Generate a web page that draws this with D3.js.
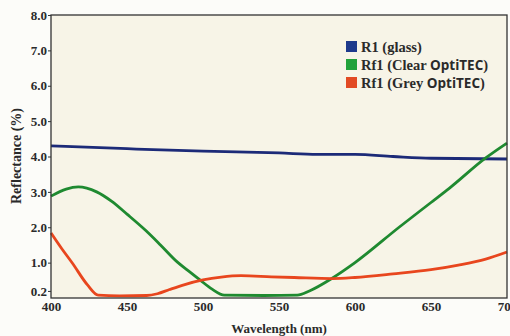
<!DOCTYPE html>
<html lang="en">
<head>
  <meta charset="UTF-8">
  <title>Reflectance</title>
  <script src="https://d3js.org/d3.v7.min.js"></script>
  <style>
    body { margin: 0; background: #fcfcf9; }
    text { font-family: "Liberation Serif", "DejaVu Serif", serif; font-weight: bold; fill: #2a2a2a; }
  </style>
</head>
<body>
  <div id="chart"></div>
  <script>
    // wavelengths (nm) and reflectance (%)
    const glassWl   = [400, 450, 500, 550, 575, 600, 625, 650, 700];
    const glassVals = [4.30, 4.22, 4.15, 4.10, 4.06, 4.06, 4.00, 3.95, 3.93];

    const clearWl   = [400, 410, 418, 430, 440, 450, 462, 472, 483, 490, 498, 506, 514, 540, 562, 570, 585, 600, 629, 650, 662, 686, 700];
    const clearVals = [2.88, 3.08, 3.14, 3.00, 2.73, 2.37, 1.92, 1.50, 1.02, 0.78, 0.51, 0.25, 0.08, 0.07, 0.08, 0.20, 0.56, 1.00, 2.00, 2.70, 3.10, 3.96, 4.38];

    const greyWl    = [400, 407, 414, 424, 431, 445, 463, 470, 478, 488, 500, 512, 525, 545, 560, 585, 600, 625, 650, 668, 686, 700];
    const greyVals  = [1.84, 1.40, 0.99, 0.37, 0.08, 0.06, 0.07, 0.12, 0.24, 0.38, 0.51, 0.59, 0.63, 0.60, 0.58, 0.55, 0.58, 0.68, 0.80, 0.93, 1.10, 1.30];

    const xTicks = [400, 450, 500, 550, 600, 650, 700];
    const yTicks = [0.2, 1, 2, 3, 4, 5, 6, 7, 8];

    const seriesNames = ["R1 (glass)", "Rf1 (Clear OptiTEC)", "Rf1 (Grey OptiTEC)"];
    const lineColors = ["#1c2a78", "#1f8a30", "#e8461e"];
    const swatchColors = ["#1e3a8c", "#22a23a", "#e24a24"];

    const W = 510, H = 336;
    const margin = { top: 15, right: 3, bottom: 38, left: 51 };
    const width = W - margin.left - margin.right,
          height = H - margin.top - margin.bottom;

    const svg = d3.select("#chart").append("svg")
      .attr("width", W).attr("height", H);

    const g = svg.append("g")
      .attr("transform", `translate(${margin.left},${margin.top})`);

    const x = d3.scaleLinear().domain([400, 700]).range([0, width]);
    const y = d3.scaleLinear().domain([0, 8]).range([height, 0]);

    // plot background
    g.append("rect")
      .attr("width", width).attr("height", height)
      .attr("fill", "#f7f4e7");

    // series
    const series = [
      { wl: glassWl, v: glassVals },
      { wl: clearWl, v: clearVals },
      { wl: greyWl, v: greyVals }
    ];
    const line = d3.line()
      .x(d => x(d[0])).y(d => y(d[1]))
      .curve(d3.curveMonotoneX);

    series.forEach((s, i) => {
      g.append("path")
        .datum(s.wl.map((w, j) => [w, s.v[j]]))
        .attr("fill", "none")
        .attr("stroke", lineColors[i])
        .attr("stroke-width", 2.8)
        .attr("d", line);
    });

    // frame
    g.append("rect")
      .attr("width", width).attr("height", height)
      .attr("fill", "none")
      .attr("stroke", "#333").attr("stroke-width", 1.3);

    // axes
    const xAxis = g.append("g")
      .attr("transform", `translate(0,${height})`)
      .call(d3.axisBottom(x).tickValues(xTicks).tickSize(0).tickPadding(4).tickFormat(d3.format("d")));
    xAxis.select(".domain").remove();
    xAxis.selectAll("text").style("font-size", "13px");

    const yAxis = g.append("g")
      .call(d3.axisLeft(y).tickValues(yTicks).tickSize(3).tickPadding(1).tickFormat(d3.format(".1f")));
    yAxis.select(".domain").remove();
    yAxis.selectAll("line").attr("stroke", "#333");
    yAxis.selectAll("text").style("font-size", "13px");

    // axis titles
    svg.append("text")
      .attr("x", margin.left + x(550)).attr("y", 333)
      .attr("text-anchor", "middle")
      .style("font-size", "13px")
      .text("Wavelength (nm)");

    svg.append("text")
      .attr("transform", "translate(21,156) rotate(-90)")
      .attr("text-anchor", "middle")
      .style("font-size", "14px")
      .text("Reflectance (%)");

    // legend
    const legend = svg.append("g").attr("transform", "translate(346,41)");
    seriesNames.forEach((name, i) => {
      const row = legend.append("g").attr("transform", `translate(0,${i * 18})`);
      row.append("rect")
        .attr("width", 11).attr("height", 11)
        .attr("fill", swatchColors[i]);
      const t = row.append("text")
        .attr("x", 15).attr("y", 10.5)
        .style("font-size", "14.5px");
      const parts = name.split("OptiTEC");
      t.append("tspan").text(parts[0]);
      if (parts.length > 1) {
        t.append("tspan")
          .style("font-family", "'Open Sans', 'DejaVu Sans', sans-serif")
          .style("font-size", "13.5px")
          .text("OptiTEC");
        t.append("tspan").text(parts[1]);
      }
    });
  </script>
</body>
</html>
